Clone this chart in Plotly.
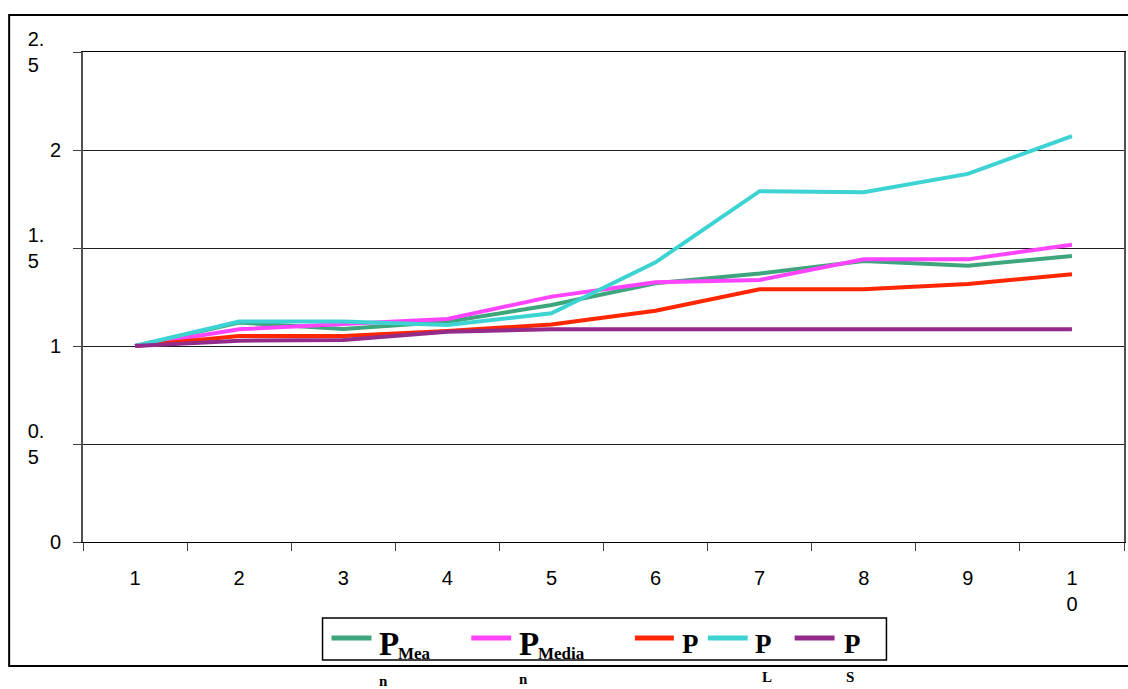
import plotly.graph_objects as go

# ---- data ----
periods = ["1", "2", "3", "4", "5", "6", "7", "8", "9", "10"]
period_labels = ["1", "2", "3", "4", "5", "6", "7", "8", "9", "1<br>0"]

p_mean = [1.0, 1.12, 1.087, 1.124, 1.209, 1.32, 1.37, 1.434, 1.41, 1.459]
p_median = [1.0, 1.085, 1.112, 1.138, 1.252, 1.325, 1.337, 1.442, 1.442, 1.517]
p_red = [1.0, 1.051, 1.051, 1.077, 1.11, 1.18, 1.289, 1.289, 1.316, 1.366]
p_l = [1.0, 1.125, 1.125, 1.107, 1.167, 1.427, 1.79, 1.784, 1.878, 2.071]
p_s = [1.0, 1.027, 1.031, 1.073, 1.085, 1.085, 1.085, 1.085, 1.085, 1.085]

y_ticks = [0, 0.5, 1, 1.5, 2, 2.5]
NB = "\u00a0"
y_ticktext = ["0", "0." + NB * 3 + "<br>5" + NB * 4, "1", "1." + NB * 3 + "<br>5" + NB * 4,
              "2", "2." + NB * 3 + "<br>5" + NB * 4]

series = [
    ("P Mean", p_mean, "#3EA67C"),
    ("P Median", p_median, "#FF44FF"),
    ("P", p_red, "#FF2600"),
    ("P L", p_l, "#3DD3D3"),
    ("P S", p_s, "#932B8A"),
]

# ---- page geometry (pixels) ----
W, H = 1128, 689
ML, MR, MT, MB = 83, 2, 52, 147
PW, PH = W - ML - MR, H - MT - MB


def px(x):
    return (x - ML) / PW


def py(y):
    return (H - MB - y) / PH


fig = go.Figure()
for name, vals, color in series:
    fig.add_trace(go.Scatter(
        x=periods, y=vals, mode="lines", name=name,
        line=dict(color=color, width=4), showlegend=False,
    ))

shapes = []
annotations = []

# outer chart frame
shapes.append(dict(type="rect", xref="paper", yref="paper",
                   x0=px(9), x1=px(1145), y0=py(666), y1=py(15),
                   line=dict(color="#000000", width=2), fillcolor="rgba(0,0,0,0)", layer="below"))

# legend box
shapes.append(dict(type="rect", xref="paper", yref="paper",
                   x0=px(323), x1=px(888), y0=py(660), y1=py(618),
                   line=dict(color="#000000", width=1.5), fillcolor="#FFFFFF"))

serif = "Liberation Serif, Times New Roman, serif"
legend_items = [
    # line x0, line x1, P left, P size, subscript, sub left, wrapped tail, tail x, tail y
    (332, 372, 379, 33, "Mea", 398, "n", 379, 681),
    (472, 512, 519, 33, "Media", 538, "n", 519, 679),
    (636, 675, 682, 27, None, None, None, None, None),
    (709, 749, 755, 27, None, None, "L", 762, 677),
    (796, 836, 844, 27, None, None, "S", 846, 677),
]
for (name, vals, color), item in zip(series, legend_items):
    lx0, lx1, tx, tsize, sub, subx, tail, tailx, taily = item
    shapes.append(dict(type="line", xref="paper", yref="paper",
                       x0=px(lx0), x1=px(lx1), y0=py(638), y1=py(638),
                       line=dict(color=color, width=5)))
    annotations.append(dict(xref="paper", yref="paper", x=px(tx - 1), y=py(644),
                            xanchor="left", yanchor="middle", showarrow=False,
                            text="<b>P</b>", font=dict(family=serif, size=tsize, color="#000000")))
    if sub:
        annotations.append(dict(xref="paper", yref="paper", x=px(subx - 1), y=py(653),
                                xanchor="left", yanchor="middle", showarrow=False,
                                text="<b>" + sub + "</b>",
                                font=dict(family=serif, size=17, color="#000000")))
    if tail:
        annotations.append(dict(xref="paper", yref="paper", x=px(tailx - 1), y=py(taily),
                                xanchor="left", yanchor="middle", showarrow=False,
                                text="<b>" + tail + "</b>",
                                font=dict(family=serif, size=15, color="#000000")))

fig.update_layout(
    width=W, height=H,
    margin=dict(l=ML, r=MR, t=MT, b=MB, pad=0),
    paper_bgcolor="#FFFFFF", plot_bgcolor="#FFFFFF",
    font=dict(family="Liberation Sans, Arial, sans-serif", size=20, color="#000000"),
    shapes=shapes, annotations=annotations,
    showlegend=False,
)
fig.update_xaxes(
    type="category", range=[-0.5, 9.5], tickvals=periods, ticktext=period_labels,
    tickson="boundaries", ticks="outside", ticklen=8, tickcolor="#404040", tickwidth=1,
    showline=True, linecolor="#000000", linewidth=1, mirror=True,
    showgrid=False, zeroline=False, tickfont=dict(size=20), ticklabelstandoff=18,
)
fig.update_yaxes(
    range=[0, 2.5], tickvals=y_ticks, ticktext=y_ticktext,
    ticks="outside", ticklen=8, tickcolor="#404040", tickwidth=1,
    showline=True, linecolor="#505050", linewidth=2, mirror=True,
    showgrid=True, gridcolor="#202020", gridwidth=1, zeroline=False,
    tickfont=dict(size=20), ticklabelstandoff=8,
)

fig.write_html("out.html")
